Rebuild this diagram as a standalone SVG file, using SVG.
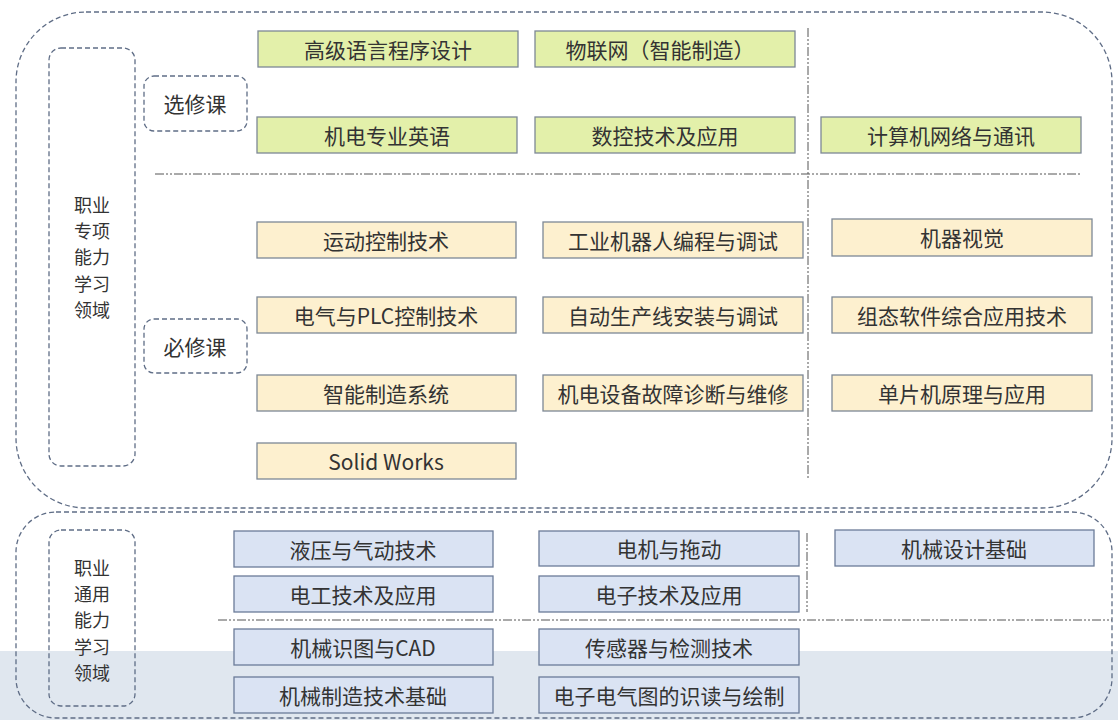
<svg xmlns="http://www.w3.org/2000/svg" width="1118" height="720" viewBox="0 0 1118 720">
<style>
text{font-family:"Noto Sans CJK SC","Liberation Sans",sans-serif;font-size:21px;fill:#333;text-anchor:middle;dominant-baseline:central}
text.lab{font-size:18px}
.frame{fill:none;stroke:#5f6d86;stroke-width:1.3;stroke-dasharray:5 3}
.div{fill:none;stroke:#555;stroke-width:1;stroke-dasharray:9 2 2 2 2 2}
.g rect{fill:#e3f0aa;stroke:#7d8896;stroke-width:1.3}
.y rect{fill:#fdf0cf;stroke:#7d8896;stroke-width:1.3}
.b rect{fill:#dae3f3;stroke:#6b7b98;stroke-width:1.3}
</style>
<rect width="1118" height="720" fill="#fff"/>
<rect x="0" y="651" width="1118" height="69" fill="#e0e7ef"/>
<g id="containers">
<rect class="frame" x="16" y="12" width="1096" height="496" rx="70" ry="70"/>
<rect class="frame" x="16" y="512" width="1096" height="206" rx="40" ry="40"/>
</g>
<g id="connectors">
<line class="div" x1="155" y1="174" x2="1080" y2="174"/>
<line class="div" x1="808" y1="28" x2="808" y2="478"/>
<line class="div" x1="218" y1="620" x2="1112" y2="620"/>
<line class="div" x1="807" y1="533" x2="807" y2="612"/>
</g>
<g id="label-special">
<rect class="frame" x="49" y="48" width="86" height="418" rx="12"/>
<text class="lab" x="92" y="204">职业</text><text class="lab" x="92" y="230.2">专项</text><text class="lab" x="92" y="256.4">能力</text><text class="lab" x="92" y="282.6">学习</text><text class="lab" x="92" y="308.8">领域</text>
</g>
<g id="label-general">
<rect class="frame" x="49" y="530" width="86" height="176" rx="12"/>
<text class="lab" x="92" y="567">职业</text><text class="lab" x="92" y="593.2">通用</text><text class="lab" x="92" y="619.4">能力</text><text class="lab" x="92" y="645.6">学习</text><text class="lab" x="92" y="671.8">领域</text>
</g>
<g id="elective-label"><rect class="frame" x="144" y="76" width="103" height="55" rx="10"/><text x="195" y="103">选修课</text></g>
<g id="required-label"><rect class="frame" x="144" y="319" width="103" height="54" rx="10"/><text x="195" y="346">必修课</text></g>

<g id="n1" class="g"><rect x="258" y="31" width="260" height="36"/><text x="388" y="49">高级语言程序设计</text></g>
<g id="n2" class="g"><rect x="535" y="31" width="260" height="36"/><text x="660" y="49">物联网（智能制造）</text></g>
<g id="n3" class="g"><rect x="257" y="117" width="260" height="36"/><text x="387" y="135">机电专业英语</text></g>
<g id="n4" class="g"><rect x="535" y="117" width="260" height="36"/><text x="665" y="135">数控技术及应用</text></g>
<g id="n5" class="g"><rect x="821" y="117" width="260" height="36"/><text x="951" y="135">计算机网络与通讯</text></g>

<g id="n6" class="y"><rect x="257" y="222" width="259" height="36"/><text x="386" y="240">运动控制技术</text></g>
<g id="n7" class="y"><rect x="543" y="222" width="260" height="36"/><text x="673" y="240">工业机器人编程与调试</text></g>
<g id="n8" class="y"><rect x="832" y="219" width="260" height="37"/><text x="962" y="237">机器视觉</text></g>
<g id="n9" class="y"><rect x="257" y="297" width="259" height="36"/><text x="386" y="315">电气与PLC控制技术</text></g>
<g id="n10" class="y"><rect x="543" y="297" width="260" height="36"/><text x="673" y="315">自动生产线安装与调试</text></g>
<g id="n11" class="y"><rect x="832" y="297" width="260" height="36"/><text x="962" y="315">组态软件综合应用技术</text></g>
<g id="n12" class="y"><rect x="257" y="375" width="259" height="36"/><text x="386" y="393">智能制造系统</text></g>
<g id="n13" class="y"><rect x="543" y="375" width="260" height="36"/><text x="673" y="393">机电设备故障诊断与维修</text></g>
<g id="n14" class="y"><rect x="832" y="375" width="260" height="36"/><text x="962" y="393">单片机原理与应用</text></g>
<g id="n15" class="y"><rect x="257" y="443" width="259" height="36"/><text x="386" y="461">Solid Works</text></g>

<g id="n16" class="b"><rect x="234" y="531" width="259" height="36"/><text x="363" y="549">液压与气动技术</text></g>
<g id="n17" class="b"><rect x="539" y="531" width="260" height="35"/><text x="669" y="548">电机与拖动</text></g>
<g id="n18" class="b"><rect x="835" y="530" width="259" height="36"/><text x="964" y="548">机械设计基础</text></g>
<g id="n19" class="b"><rect x="234" y="576" width="259" height="36"/><text x="363" y="594">电工技术及应用</text></g>
<g id="n20" class="b"><rect x="539" y="576" width="260" height="36"/><text x="669" y="594">电子技术及应用</text></g>
<g id="n21" class="b"><rect x="234" y="629" width="259" height="36"/><text x="363" y="647">机械识图与CAD</text></g>
<g id="n22" class="b"><rect x="539" y="629" width="260" height="36"/><text x="669" y="647">传感器与检测技术</text></g>
<g id="n23" class="b"><rect x="234" y="677" width="259" height="36"/><text x="363" y="695">机械制造技术基础</text></g>
<g id="n24" class="b"><rect x="539" y="677" width="260" height="36"/><text x="669" y="695">电子电气图的识读与绘制</text></g>
</svg>
